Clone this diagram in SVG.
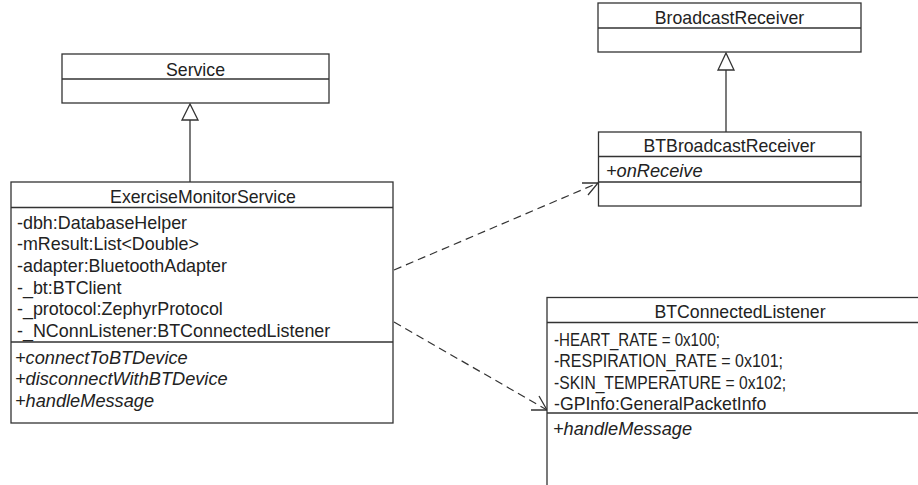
<svg xmlns="http://www.w3.org/2000/svg" width="918" height="485" viewBox="0 0 918 485">
<style>
.box{fill:#fff;stroke:#333;stroke-width:1.3}
.sep{stroke:#333;stroke-width:1.3}
text{font-family:"Liberation Sans",Arial,sans-serif;font-size:17.7px;fill:#222}
.c{text-anchor:middle}
.a{font-size:17.9px}
.i{font-style:italic;font-size:18.2px}
.dash{fill:none;stroke:#333;stroke-width:1.2;stroke-dasharray:8,5}
.solid{fill:none;stroke:#333;stroke-width:1.3}
.tri{fill:#fff;stroke:#333;stroke-width:1.3}
</style>
<rect width="918" height="485" fill="#fff"/>
<g id="connectors">
<line class="solid" x1="190" y1="120" x2="190" y2="182"/>
<polygon class="tri" points="190,104 182,120 198,120"/>
<line class="solid" x1="726" y1="70" x2="726" y2="132"/>
<polygon class="tri" points="726,53 718,70 734,70"/>
<line class="dash" x1="394" y1="270" x2="598" y2="183"/>
<polyline class="solid" points="582,183 598,183 588,195"/>
<line class="dash" x1="394" y1="322" x2="547" y2="410"/>
<polyline class="solid" points="539,396 547,410 531,410"/>
</g>
<g id="Service">
<rect class="box" x="62" y="54" width="267" height="49"/>
<line class="sep" x1="62" y1="79" x2="329" y2="79"/>
<text class="c" x="195.5" y="75.5">Service</text>
</g>
<g id="BroadcastReceiver">
<rect class="box" x="598" y="3" width="263" height="49"/>
<line class="sep" x1="598" y1="28" x2="861" y2="28"/>
<text class="c" x="729.5" y="24">BroadcastReceiver</text>
</g>
<g id="ExerciseMonitorService">
<rect class="box" x="11" y="182" width="382" height="241"/>
<line class="sep" x1="11" y1="207.5" x2="393" y2="207.5"/>
<line class="sep" x1="11" y1="342" x2="393" y2="342"/>
<text class="c" x="203" y="203">ExerciseMonitorService</text>
<text class="a" x="17" y="228.5">-dbh:DatabaseHelper</text>
<text class="a" x="17" y="250.2">-mResult:List&lt;Double&gt;</text>
<text class="a" x="17" y="271.9">-adapter:BluetoothAdapter</text>
<text class="a" x="17" y="293.6">-_bt:BTClient</text>
<text class="a" x="17" y="315.3">-_protocol:ZephyrProtocol</text>
<text class="a" x="17" y="337">-_NConnListener:BTConnectedListener</text>
<text class="i" x="15" y="363.5">+connectToBTDevice</text>
<text class="i" x="15" y="385.2">+disconnectWithBTDevice</text>
<text class="i" x="15" y="406.9">+handleMessage</text>
</g>
<g id="BTBroadcastReceiver">
<rect class="box" x="598.5" y="132" width="262.5" height="74"/>
<line class="sep" x1="598.5" y1="156.5" x2="861" y2="156.5"/>
<line class="sep" x1="598.5" y1="182" x2="861" y2="182"/>
<text class="c" x="729.5" y="152">BTBroadcastReceiver</text>
<text class="i" x="606" y="176.5">+onReceive</text>
</g>
<g id="BTConnectedListener">
<rect class="box" x="547" y="297.5" width="386" height="220"/>
<line class="sep" x1="547" y1="322.5" x2="933" y2="322.5"/>
<line class="sep" x1="547" y1="413" x2="933" y2="413"/>
<text class="c" x="740" y="318">BTConnectedListener</text>
<text x="554" y="345.5" textLength="166" lengthAdjust="spacingAndGlyphs">-HEART_RATE = 0x100;</text>
<text x="554" y="367" textLength="229" lengthAdjust="spacingAndGlyphs">-RESPIRATION_RATE = 0x101;</text>
<text x="554" y="388.5" textLength="232" lengthAdjust="spacingAndGlyphs">-SKIN_TEMPERATURE = 0x102;</text>
<text x="554" y="410">-GPInfo:GeneralPacketInfo</text>
<text class="i" x="553" y="434.5">+handleMessage</text>
</g>
</svg>
